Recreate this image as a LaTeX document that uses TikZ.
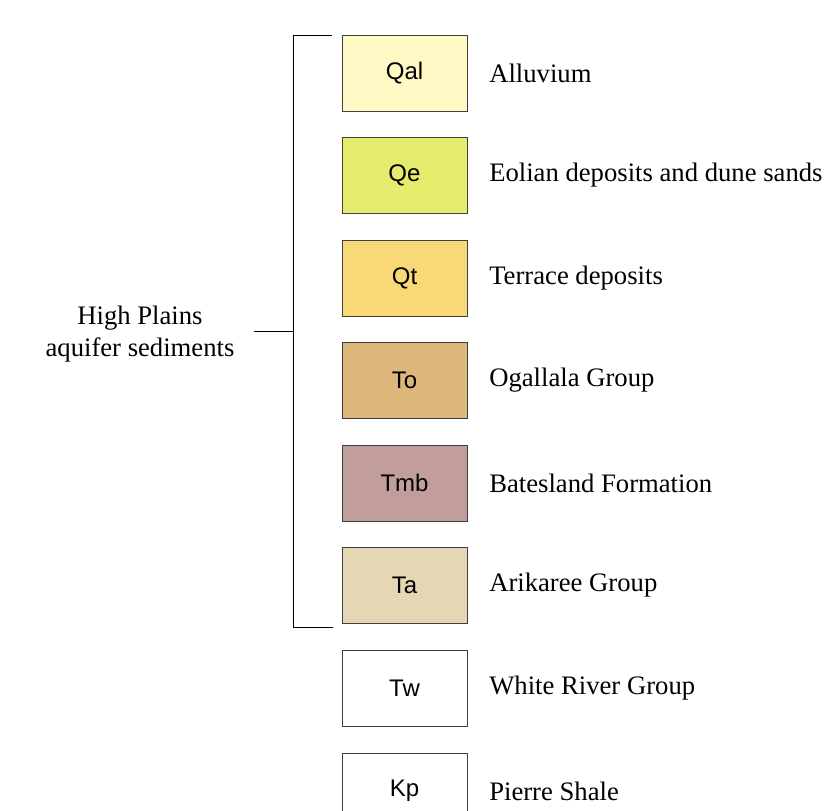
\documentclass[tikz,border=0pt]{standalone}
\usepackage{fontspec}
\setmainfont{Liberation Serif}
\setsansfont{Liberation Sans}
\usetikzlibrary{positioning}
\definecolor{qalFill}{HTML}{FFF9C6}
\definecolor{qeFill}{HTML}{E5EB6D}
\definecolor{qtFill}{HTML}{F9D877}
\definecolor{toFill}{HTML}{DCB67B}
\definecolor{tmbFill}{HTML}{C19E9B}
\definecolor{taFill}{HTML}{E5D6B4}
\tikzset{
  unitBox/.style={draw=black!75, line width=0.75pt, minimum width=93.75pt, minimum height=57pt, inner sep=0pt, font=\sffamily\fontsize{18}{21}\selectfont},
  unitLabel/.style={anchor=west, inner sep=0pt, font=\fontsize{20}{24}\selectfont}
}
\newcommand{\drawUnit}[5]{
  \node[unitBox, fill=#3] (#1) at (404.5,#2) {#4};
  \node[unitLabel] (#1Text) at (489,#2) {#5};
}

\begin{document}
\begin{tikzpicture}[x=0.75pt, y=-0.75pt]
  \useasboundingbox (0,0) rectangle (830,810);
  \drawUnit{qal}{73}{qalFill}{Qal}{Alluvium}
  \drawUnit{qe}{175}{qeFill}{Qe}{Eolian deposits and dune sands}
  \drawUnit{qt}{278}{qtFill}{Qt}{Terrace deposits}
  \drawUnit{to}{380}{toFill}{To}{Ogallala Group}
  \drawUnit{tmb}{483}{tmbFill}{Tmb}{Batesland Formation}
  \drawUnit{ta}{585}{taFill}{Ta}{Arikaree Group}
  \drawUnit{tw}{688}{white}{Tw}{White River Group}
  \drawUnit{kp}{791}{white}{Kp}{Pierre Shale}
  % bracket for the aquifer units
  \coordinate (bracketTop) at (332,35);
  \coordinate (bracketBottom) at (333,627);
  \coordinate (bracketMid) at (293,331);
  \coordinate (bracketTick) at (254,331);
  \node[align=center, inner sep=0pt, font=\fontsize{20}{23.5}\selectfont] (highPlains) at (140,334) {High Plains\\aquifer sediments};
  \draw[line width=0.75pt] (bracketTop) -- (bracketTop -| bracketMid) -- (bracketBottom -| bracketMid) -- (bracketBottom);
  \draw[line width=0.75pt] (bracketTick) -- (bracketMid);
\end{tikzpicture}
\end{document}
